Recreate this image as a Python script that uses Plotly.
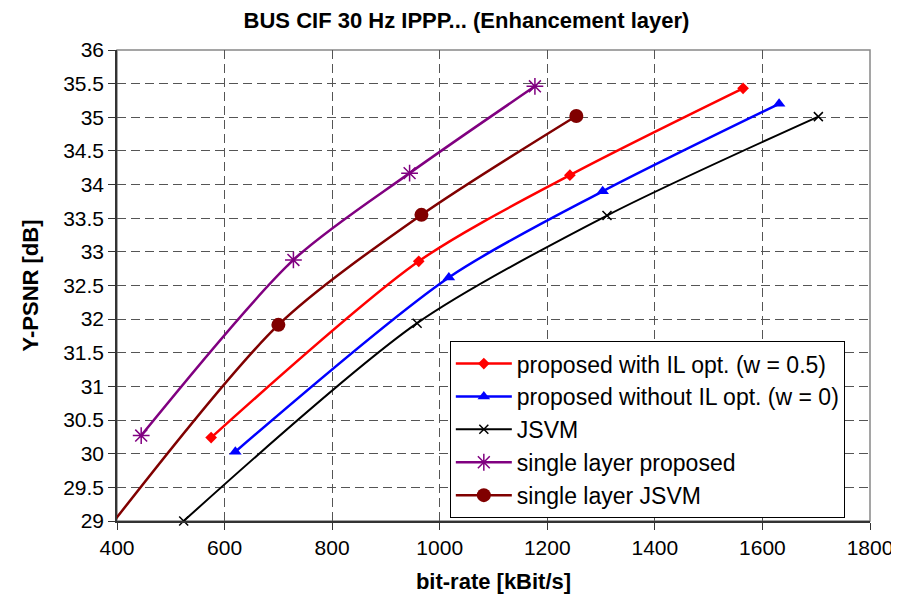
import plotly.graph_objects as go

# Data
red_x = [575, 961, 1242, 1564]
red_y = [30.24, 32.86, 34.14, 35.43]
blue_x = [620, 1017, 1303, 1631]
blue_y = [30.03, 32.62, 33.90, 35.20]
black_x = [524, 958, 1311, 1704]
black_y = [29.00, 31.94, 33.54, 35.01]
purple_x = [445, 728, 944, 1177]
purple_y = [30.27, 32.88, 34.17, 35.46]
brown_x = [380, 700, 966, 1254]
brown_y = [28.85, 31.915, 33.55, 35.02]

names = [
    "proposed with IL opt. (w = 0.5)",
    "proposed without IL opt. (w = 0)",
    "JSVM",
    "single layer proposed",
    "single layer JSVM",
]

FONT = "Liberation Sans, Arial, sans-serif"

fig = go.Figure()
fig.add_trace(go.Scatter(x=red_x, y=red_y, name=names[0], mode="lines+markers",
                         line=dict(color="#FF0000", width=2.5, shape="spline", smoothing=0.8),
                         marker=dict(symbol="diamond", size=9, color="#FF0000")))
fig.add_trace(go.Scatter(x=blue_x, y=blue_y, name=names[1], mode="lines+markers",
                         line=dict(color="#0000FF", width=2.5, shape="spline", smoothing=0.8),
                         marker=dict(symbol="triangle-up", size=11, color="#0000FF")))
fig.add_trace(go.Scatter(x=black_x, y=black_y, name=names[2], mode="lines+markers",
                         cliponaxis=False,
                         line=dict(color="#000000", width=2, shape="spline", smoothing=0.8),
                         marker=dict(symbol="x-thin-open", size=9, color="#000000",
                                     line=dict(width=1.5, color="#000000"))))
fig.add_trace(go.Scatter(x=purple_x, y=purple_y, name=names[3], mode="lines+markers",
                         line=dict(color="#800080", width=2.5, shape="spline", smoothing=0.8),
                         marker=dict(symbol="asterisk-open", size=14, color="#800080",
                                     line=dict(width=1.5, color="#800080"))))
fig.add_trace(go.Scatter(x=brown_x, y=brown_y, name=names[4], mode="lines+markers",
                         cliponaxis=True,
                         line=dict(color="#800000", width=2.5, shape="spline", smoothing=0.8),
                         marker=dict(symbol="circle", size=14, color="#800000")))

fig.update_layout(
    width=891, height=587,
    margin=dict(l=109, r=29, t=42, b=74),
    paper_bgcolor="white", plot_bgcolor="white",
    font=dict(family=FONT, size=20, color="black"),
    title=dict(text="<b>BUS CIF 30 Hz IPPP... (Enhancement layer)</b>",
               x=0.5146, xanchor="center", y=0.9796, yanchor="middle",
               font=dict(family=FONT, size=22, color="black")),
    legend=dict(x=0.442, xanchor="left", y=0.382, yanchor="top",
                bgcolor="white", bordercolor="black", borderwidth=1,
                font=dict(family=FONT, size=23, color="black"),
                itemwidth=56, tracegroupgap=0),
    shapes=[dict(type="rect", xref="paper", yref="paper", x0=0, y0=0, x1=1, y1=1,
                 line=dict(color="#888888", width=1.5), layer="below")],
)

fig.update_xaxes(
    range=[400, 1800], tickmode="array", tickvals=list(range(400, 1801, 200)),
    automargin=False,
    showgrid=True, gridcolor="#555555", griddash="9px,5px", gridwidth=1,
    showline=True, linecolor="#333333", linewidth=1.5,
    ticks="outside", ticklen=7, tickcolor="#333333",
    zeroline=False, tickfont=dict(family=FONT, size=21),
    title=dict(text="<b>bit-rate [kBit/s]</b>", font=dict(family=FONT, size=22), standoff=16),
)
fig.update_yaxes(
    range=[29, 36], tickmode="array", tickvals=[29 + 0.5 * i for i in range(15)],
    ticktext=[("%g" % (29 + 0.5 * i)) for i in range(15)],
    automargin=False,
    showgrid=True, gridcolor="#555555", griddash="9px,5px", gridwidth=1,
    showline=True, linecolor="#333333", linewidth=1.5,
    ticks="outside", ticklen=7, tickcolor="#333333",
    zeroline=False, tickfont=dict(family=FONT, size=21),
    title=dict(text="<b>Y-PSNR [dB]</b>", font=dict(family=FONT, size=22), standoff=18),
)

fig.write_html("out.html")
